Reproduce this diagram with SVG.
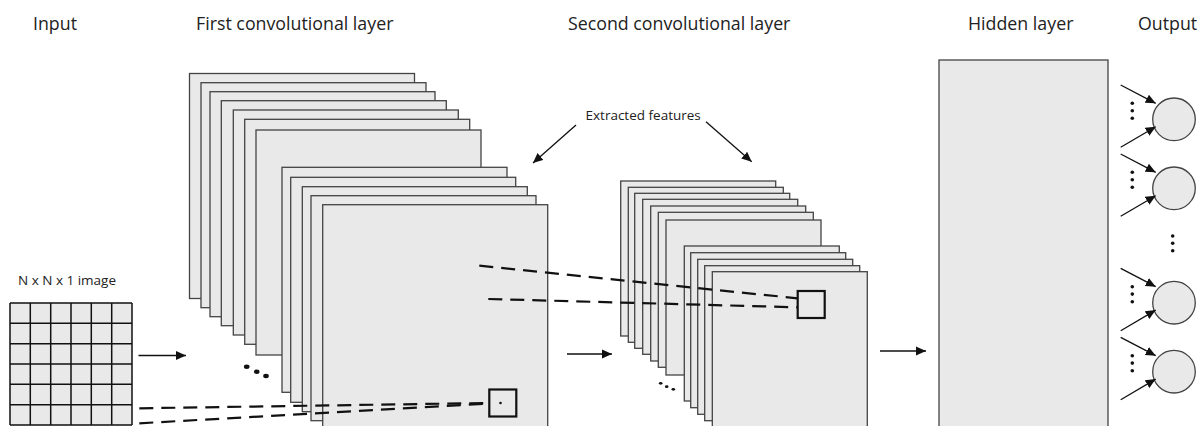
<svg xmlns="http://www.w3.org/2000/svg" width="1200" height="426" viewBox="0 0 1200 426">
<style>
text{font-family:"Open Sans","Noto Sans","Liberation Sans",sans-serif;fill:#222}
.t{font-size:17.8px}
.s{font-size:13.5px}
.fm{fill:#e9e9e9;stroke:#444;stroke-width:1.3}
.grid{fill:none;stroke:#111;stroke-width:1.5}
.ar{fill:none;stroke:#111;stroke-width:1.3;marker-end:url(#ah)}
.dash{fill:none;stroke:#111;stroke-width:2.2;stroke-dasharray:14 8}
.box{fill:none;stroke:#111;stroke-width:2.2}
.neu{fill:#e9e9e9;stroke:#444;stroke-width:1.3}
.dot{fill:#111}
</style>
<defs>
<marker id="ah" viewBox="0 0 10 10" refX="10" refY="5" markerWidth="10" markerHeight="10" markerUnits="userSpaceOnUse" orient="auto">
<path d="M0,0.5 L10,5 L0,9.5 Z" fill="#111"/>
</marker>
</defs>
<rect width="1200" height="426" fill="#fff"/>

<g id="titles">
<text class="t" x="33" y="30">Input</text>
<text class="t" x="196" y="30">First convolutional layer</text>
<text class="t" x="568" y="30">Second convolutional layer</text>
<text class="t" x="968" y="30">Hidden layer</text>
<text class="t" x="1138" y="30">Output</text>
</g>

<g id="input">
<text class="s" x="18" y="285">N x N x 1 image</text>
<rect x="10" y="303" width="122" height="122" fill="#e9e9e9"/>
<path class="grid" d="M10,303V425M30.3,303V425M50.7,303V425M71,303V425M91.3,303V425M111.7,303V425M132,303V425M10,303H132M10,323.3H132M10,343.7H132M10,364H132M10,384.3H132M10,404.7H132M10,425H132"/>
</g>

<g id="conv1">
<rect class="fm" x="189.5" y="73.5" width="225" height="225"/>
<rect class="fm" x="201" y="82.7" width="225" height="225"/>
<rect class="fm" x="210" y="91.7" width="225" height="225"/>
<rect class="fm" x="221.3" y="100.7" width="225" height="225"/>
<rect class="fm" x="233.3" y="110" width="225" height="225"/>
<rect class="fm" x="244.7" y="119.3" width="225" height="225"/>
<rect class="fm" x="256" y="130" width="225" height="225"/>
<rect class="fm" x="282" y="167.3" width="225" height="225"/>
<rect class="fm" x="290.7" y="177.3" width="225" height="225"/>
<rect class="fm" x="302.3" y="186.7" width="225" height="225"/>
<rect class="fm" x="311" y="195.7" width="225" height="225"/>
<rect class="fm" x="322.7" y="204.7" width="225" height="225"/>
<ellipse class="dot" cx="246.7" cy="366.7" rx="2.8" ry="2.2"/>
<ellipse class="dot" cx="256.7" cy="371.7" rx="2.8" ry="2.2"/>
<ellipse class="dot" cx="266" cy="376" rx="2.8" ry="2.2"/>
</g>

<g id="conv2">
<rect class="fm" x="620.7" y="181" width="155" height="155"/>
<rect class="fm" x="628.3" y="187.3" width="155" height="155"/>
<rect class="fm" x="634.7" y="193.3" width="155" height="155"/>
<rect class="fm" x="642.7" y="199.3" width="155" height="155"/>
<rect class="fm" x="650.7" y="206" width="155" height="155"/>
<rect class="fm" x="658.3" y="212.3" width="155" height="155"/>
<rect class="fm" x="666" y="220" width="155" height="155"/>
<rect class="fm" x="684.3" y="246" width="155" height="155"/>
<rect class="fm" x="690.7" y="252.7" width="155" height="155"/>
<rect class="fm" x="697.7" y="259.3" width="155" height="155"/>
<rect class="fm" x="704.7" y="265.7" width="155" height="155"/>
<rect class="fm" x="712.3" y="271.7" width="155" height="155"/>
<ellipse class="dot" cx="660.7" cy="383.3" rx="1.8" ry="1.4"/>
<ellipse class="dot" cx="666.7" cy="386.7" rx="1.8" ry="1.4"/>
<ellipse class="dot" cx="673.3" cy="389.3" rx="1.8" ry="1.4"/>
</g>

<g id="hidden">
<rect class="fm" x="939" y="60" width="169" height="380"/>
</g>

<g id="output">
<circle class="neu" cx="1174" cy="119.3" r="21.3"/>
<circle class="neu" cx="1174" cy="188.3" r="21.3"/>
<circle class="neu" cx="1174" cy="302.7" r="21.3"/>
<circle class="neu" cx="1174" cy="371.7" r="21.3"/>
<circle class="dot" cx="1132.3" cy="103.3" r="1.8"/>
<circle class="dot" cx="1132.3" cy="110.7" r="1.8"/>
<circle class="dot" cx="1132.3" cy="118.3" r="1.8"/>
<circle class="dot" cx="1132.3" cy="172.3" r="1.8"/>
<circle class="dot" cx="1132.3" cy="179.7" r="1.8"/>
<circle class="dot" cx="1132.3" cy="187.3" r="1.8"/>
<circle class="dot" cx="1132.3" cy="286.7" r="1.8"/>
<circle class="dot" cx="1132.3" cy="294.1" r="1.8"/>
<circle class="dot" cx="1132.3" cy="301.7" r="1.8"/>
<circle class="dot" cx="1132.3" cy="355.7" r="1.8"/>
<circle class="dot" cx="1132.3" cy="363.1" r="1.8"/>
<circle class="dot" cx="1132.3" cy="370.7" r="1.8"/>
<circle class="dot" cx="1172.7" cy="236" r="1.8"/>
<circle class="dot" cx="1172.7" cy="243.3" r="1.8"/>
<circle class="dot" cx="1172.7" cy="250.7" r="1.8"/>
</g>

<g id="features">
<text class="s" x="585.5" y="119.5">Extracted features</text>
</g>

<g id="connectors">
<line class="ar" x1="138.5" y1="355.5" x2="186" y2="355.5"/>
<line class="ar" x1="567" y1="354" x2="612" y2="354"/>
<line class="ar" x1="880" y1="351" x2="926" y2="351"/>
<line class="ar" x1="576" y1="125" x2="533" y2="163"/>
<line class="ar" x1="706" y1="121.7" x2="751.7" y2="161.7"/>
<line class="ar" x1="1120.7" y1="85" x2="1155.7" y2="103.3"/>
<line class="ar" x1="1120.7" y1="147.3" x2="1155.7" y2="126.7"/>
<line class="ar" x1="1120.7" y1="154" x2="1155.7" y2="172.3"/>
<line class="ar" x1="1120.7" y1="216.3" x2="1155.7" y2="195.7"/>
<line class="ar" x1="1120.7" y1="268.4" x2="1155.7" y2="286.7"/>
<line class="ar" x1="1120.7" y1="330.7" x2="1155.7" y2="310.1"/>
<line class="ar" x1="1120.7" y1="337.4" x2="1155.7" y2="355.7"/>
<line class="ar" x1="1120.7" y1="399.7" x2="1155.7" y2="379.1"/>
<line class="dash" x1="139.3" y1="408.3" x2="489" y2="403"/>
<line class="dash" x1="139.3" y1="423.3" x2="489" y2="403.5"/>
<line class="dash" x1="479.3" y1="265.7" x2="797.5" y2="298.3"/>
<line class="dash" x1="488.3" y1="299" x2="797.5" y2="307.3"/>
<rect class="box" x="489.3" y="389.5" width="27" height="27"/>
<circle class="dot" cx="500.5" cy="403" r="1.3"/>
<rect class="box" x="797.7" y="291" width="27" height="27"/>
</g>
</svg>
